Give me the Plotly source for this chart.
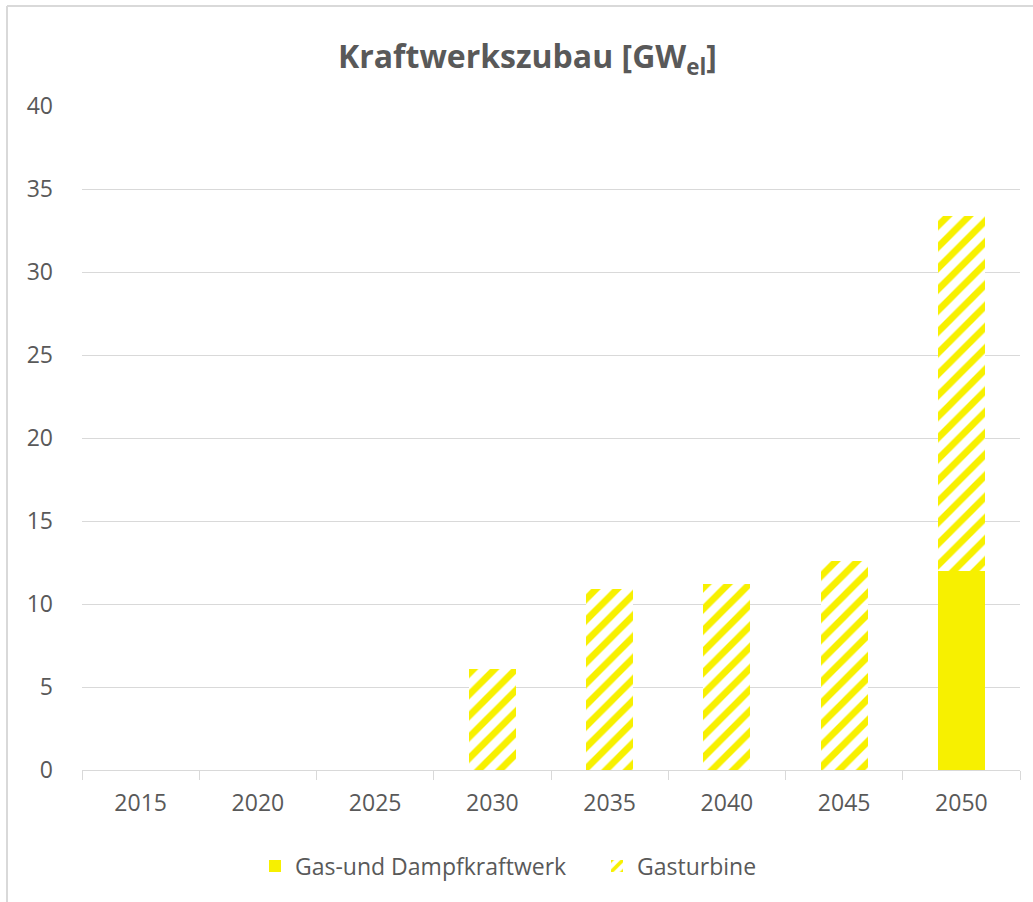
import plotly.graph_objects as go

years = ["2015", "2020", "2025", "2030", "2035", "2040", "2045", "2050"]
gud = [0, 0, 0, 0, 0, 0, 0, 12.0]
gasturbine = [0, 0, 0, 6.1, 10.9, 11.2, 12.6, 21.4]

yellow = "#f7f000"
grey_text = "#595959"
grid = "#d9d9d9"
font_family = "Open Sans, Lato, sans-serif"

W, H = 1033, 902
ml, mr, mt, mb = 82, 13, 106, 132
pw, ph = W - ml - mr, H - mt - mb

def px_x(p):
    return (p - ml) / pw

def px_y(p):
    return (H - mb - p) / ph

fig = go.Figure()
fig.add_trace(go.Bar(
    x=years, y=gud, name="Gas-und Dampfkraftwerk", legend="legend",
    marker=dict(color=yellow, line=dict(width=0)),
))
fig.add_trace(go.Bar(
    x=years, y=gasturbine, name="Gasturbine", legend="legend2",
    marker=dict(color="white", line=dict(width=0),
                pattern=dict(shape="/", fgcolor=yellow, bgcolor="white",
                             size=15, solidity=0.45, fillmode="replace")),
))

legend_style = dict(orientation="h", yanchor="middle", xanchor="left",
                    y=px_y(866), font=dict(size=23, color=grey_text),
                    itemwidth=30, bgcolor="rgba(0,0,0,0)")

fig.update_layout(
    width=W, height=H,
    margin=dict(l=ml, r=mr, t=mt, b=mb),
    barmode="stack", bargap=0.6,
    paper_bgcolor="white", plot_bgcolor="white",
    font=dict(family=font_family, color=grey_text, size=23),
    showlegend=True,
    legend=dict(legend_style, x=px_x(270 - 15)),
    legend2=dict(legend_style, x=px_x(612 - 15)),
    xaxis=dict(type="category", showline=True, linecolor=grid, linewidth=1,
               ticks="outside", tickson="boundaries", ticklen=9, tickcolor=grid,
               showgrid=False, ticklabelstandoff=12,
               tickfont=dict(size=23, color=grey_text)),
    yaxis=dict(range=[0, 40], dtick=5, showgrid=True, gridcolor=grid, gridwidth=1,
               zeroline=False, showline=False, ticks="", ticklabelstandoff=28,
               tickfont=dict(size=23, color=grey_text)),
    annotations=[dict(
        text="<b>Kraftwerkszubau [GW<sub>el</sub>]</b>",
        xref="paper", yref="paper", x=px_x(527), y=px_y(58),
        xanchor="center", yanchor="middle", showarrow=False,
        font=dict(size=32, color=grey_text, family=font_family),
    )],
    shapes=[
        dict(type="line", xref="paper", yref="paper",
             x0=px_x(7), x1=px_x(1040), y0=px_y(6), y1=px_y(6),
             line=dict(color=grid, width=2)),
        dict(type="line", xref="paper", yref="paper",
             x0=px_x(7), x1=px_x(7), y0=px_y(6), y1=px_y(905),
             line=dict(color=grid, width=2)),
    ],
)

fig.write_html("out.html")
